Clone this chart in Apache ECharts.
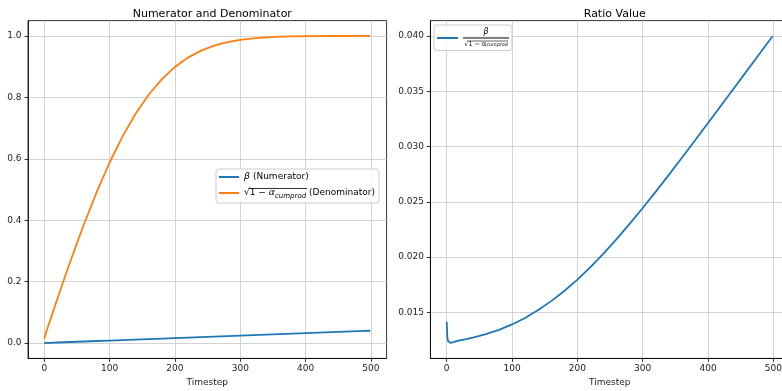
<!DOCTYPE html>
<html><head><meta charset="utf-8">
<script src="https://cdn.jsdelivr.net/npm/echarts@6.0.0/dist/echarts.min.js"></script>
<style>html,body{margin:0;padding:0;background:#fff}#c{width:782px;height:391px}</style>
</head><body><div id="c"></div>
<script>
// ---- data ----
const timesteps = [0,1,2,3,4,5,6,8,10,15,20,30,40,50,60,80,100,120,140,160,180,200,220,240,260,280,300,320,340,360,380,400,420,440,460,480,499];
const betaValues = [0.0002,0.00028,0.00036,0.00044,0.00052,0.0006,0.00068,0.00084,0.001,0.0014,0.0018,0.0026,0.0034,0.0042,0.005,0.0066,0.0082,0.0098,0.0114,0.013,0.0146,0.0162,0.0177,0.0193,0.0209,0.0225,0.0241,0.0257,0.0273,0.0289,0.0305,0.0321,0.0337,0.0353,0.0369,0.0385,0.04];
const denomValues = [0.0141,0.0219,0.029,0.0358,0.0424,0.049,0.0555,0.0683,0.081,0.1127,0.144,0.2059,0.2665,0.3255,0.3827,0.4905,0.5879,0.6738,0.7476,0.8093,0.8594,0.8991,0.9295,0.9521,0.9684,0.9798,0.9874,0.9924,0.9956,0.9975,0.9986,0.9993,0.9996,0.9998,0.9999,1.0,1.0];
const ratioValues = [0.01414,0.01277,0.01241,0.01228,0.01224,0.01223,0.01224,0.01228,0.01231,0.0124,0.01247,0.01259,0.01272,0.01287,0.01303,0.01342,0.01391,0.0145,0.01521,0.01602,0.01694,0.01797,0.01909,0.02032,0.02162,0.023,0.02444,0.02592,0.02744,0.02899,0.03055,0.03213,0.03371,0.0353,0.03689,0.03849,0.04];
const xTicks = [0,100,200,300,400,500];
const leftYTicks = [0,0.2,0.4,0.6,0.8,1.0];
const rightYTicks = [0.015,0.020,0.025,0.030,0.035,0.040];
const titles = ['Numerator and Denominator','Ratio Value'];
const xLabel = 'Timestep';
const seriesNames = ['β (Numerator)','√(1 − α_cumprod) (Denominator)','β / √(1 − α_cumprod)'];

// ---- styling ----
const FONT = 'DejaVu Sans';
const BLUE = '#1f77b4', ORANGE = '#ff7f0e';
const GRID_COLOR = '#c8c8c8';

function pairs(ys){ return timesteps.map((t,i)=>[t, ys[i]]); }

function xAxisFor(gi){
  return {
    type:'value', gridIndex:gi, min:-24.95, max:523.95,
    name:xLabel, nameLocation:'middle', nameGap:18,
    nameTextStyle:{fontFamily:FONT,fontSize:9,color:'#222'},
    axisLine:{show:true,onZero:false,lineStyle:{color:'#000',width:0.8}},
    axisTick:{show:true,length:3.5,customValues:xTicks,lineStyle:{color:'#000',width:0.8}},
    axisLabel:{customValues:xTicks,margin:6,fontFamily:FONT,fontSize:9,color:'#222',formatter:v=>String(Math.round(v))},
    splitLine:{show:true,lineStyle:{color:GRID_COLOR,width:0.8}}
  };
}
function yAxisFor(gi,min,max,ticks,dec){
  return {
    type:'value', gridIndex:gi, min:min, max:max,
    axisLine:{show:true,onZero:false,lineStyle:{color:'#000',width:0.8}},
    axisTick:{show:true,length:3.5,customValues:ticks,lineStyle:{color:'#000',width:0.8}},
    axisLabel:{customValues:ticks,margin:6.5,fontFamily:FONT,fontSize:9,color:'#222',formatter:v=>v.toFixed(dec)},
    splitLine:{show:true,lineStyle:{color:GRID_COLOR,width:0.8}}
  };
}

const legendRich = {
  it:{fontFamily:FONT,fontSize:9.5,fontStyle:'italic',lineHeight:14,color:'#000'},
  t:{fontFamily:FONT,fontSize:9,lineHeight:14,color:'#000'},
  sub:{fontFamily:FONT,fontSize:7,fontStyle:'italic',lineHeight:8,verticalAlign:'bottom',color:'#000'},
  num:{fontFamily:FONT,fontSize:8,fontStyle:'italic',lineHeight:10,align:'center',color:'#000'},
  bar:{width:46,height:1,lineHeight:2,backgroundColor:'#000',align:'center'},
  den:{fontFamily:FONT,fontSize:6.5,lineHeight:10,align:'center',color:'#000'},
  dsub:{fontFamily:FONT,fontSize:4.8,fontStyle:'italic',lineHeight:10,align:'center',color:'#000',padding:[2,0,0,0]}
};
const legendText = {};
legendText[seriesNames[0]] = '{it|β}{t| (Numerator)}';
legendText[seriesNames[1]] = '{t|√1 − }{it|α}{sub|cumprod}{t| (Denominator)}';
legendText[seriesNames[2]] = '{num|β}\n{bar|}\n{den|√1 − α}{dsub|cumprod}';

const legendBase = {
  orient:'vertical', icon:'rect', itemHeight:2, selectedMode:false,
  backgroundColor:'rgba(255,255,255,0.8)', borderColor:'#cccccc', borderWidth:1, borderRadius:3,
  formatter:name=>legendText[name],
  textStyle:{rich:legendRich,fontFamily:FONT,fontSize:9,color:'#000'}
};

const chart = echarts.init(document.getElementById('c'), null, {renderer:'canvas'});
chart.setOption({
  animation:false,
  backgroundColor:'#fff',
  title:[
    {text:titles[0],left:207.3,top:4,textAlign:'center',textStyle:{fontFamily:FONT,fontSize:11,fontWeight:'normal',color:'#000'}},
    {text:titles[1],left:609.7,top:4,textAlign:'center',textStyle:{fontFamily:FONT,fontSize:11,fontWeight:'normal',color:'#000'}}
  ],
  grid:[
    {left:28,top:20.6,width:358.6,height:337.8,show:true,borderColor:'#000',borderWidth:0.8,backgroundColor:'transparent',outerBoundsMode:'none',containLabel:false},
    {left:430.4,top:20.6,width:358.6,height:337.8,show:true,borderColor:'#000',borderWidth:0.8,backgroundColor:'transparent',outerBoundsMode:'none',containLabel:false}
  ],
  xAxis:[xAxisFor(0),xAxisFor(1)],
  yAxis:[
    yAxisFor(0,-0.05,1.05,leftYTicks,1),
    yAxisFor(1,0.01084,0.04139,rightYTicks,3)
  ],
  legend:[
    Object.assign({},legendBase,{data:[seriesNames[0],seriesNames[1]],left:216,top:169,itemWidth:20,itemGap:6,padding:[3,4,3,3]}),
    Object.assign({},legendBase,{data:[seriesNames[2]],left:434,top:25,itemWidth:21,itemGap:0,padding:[3,3,3,3]})
  ],
  graphic:[
    {type:'line',shape:{x1:249,y1:188.5,x2:307,y2:188.5},style:{stroke:'#000',lineWidth:0.8},z:100},
    {type:'line',shape:{x1:467.5,y1:41,x2:508,y2:41},style:{stroke:'#000',lineWidth:0.6},z:100}
  ],
  series:[
    {name:seriesNames[0],type:'line',xAxisIndex:0,yAxisIndex:0,data:pairs(betaValues),showSymbol:false,symbol:'none',smooth:false,lineStyle:{color:BLUE,width:1.8},itemStyle:{color:BLUE}},
    {name:seriesNames[1],type:'line',xAxisIndex:0,yAxisIndex:0,data:pairs(denomValues),showSymbol:false,symbol:'none',smooth:false,lineStyle:{color:ORANGE,width:1.8},itemStyle:{color:ORANGE}},
    {name:seriesNames[2],type:'line',xAxisIndex:1,yAxisIndex:1,data:pairs(ratioValues),showSymbol:false,symbol:'none',smooth:false,lineStyle:{color:BLUE,width:1.8},itemStyle:{color:BLUE}}
  ]
});
</script></body></html>
